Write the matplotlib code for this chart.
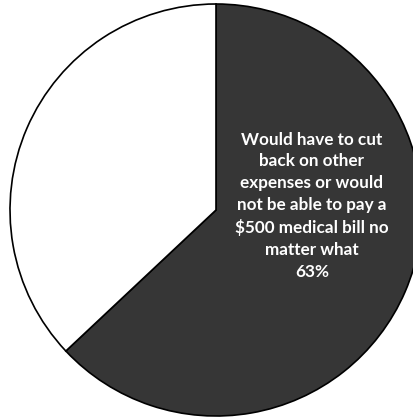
import matplotlib
matplotlib.use("Agg")
import matplotlib.pyplot as plt

# Data
labels = ["Would have to cut\nback on other\nexpenses or would\nnot be able to pay a\n$500 medical bill no\nmatter what\n63%", ""]
values = [63, 37]
colors = ["#363636", "#ffffff"]

fig = plt.figure(figsize=(4.14, 4.18), dpi=100)
ax = fig.add_axes([0, 0, 1, 1])

r = 206
cx, cy = 216, 208
wedges, _ = ax.pie(values, colors=colors, startangle=90, counterclock=False,
                   radius=1, center=(0, 0),
                   wedgeprops=dict(edgecolor="black", linewidth=1.2))

ax.text(0.466, 0.02, labels[0], ha="center", va="center", color="white",
        fontsize=12.3, fontweight="bold", family="Lato", linespacing=1.45)

ax.set_xlim(-cx / r, (414 - cx) / r)
ax.set_ylim(-cy / r, (418 - cy) / r)
ax.set_aspect("auto")
ax.axis("off")

fig.savefig("out.png", dpi=100)
